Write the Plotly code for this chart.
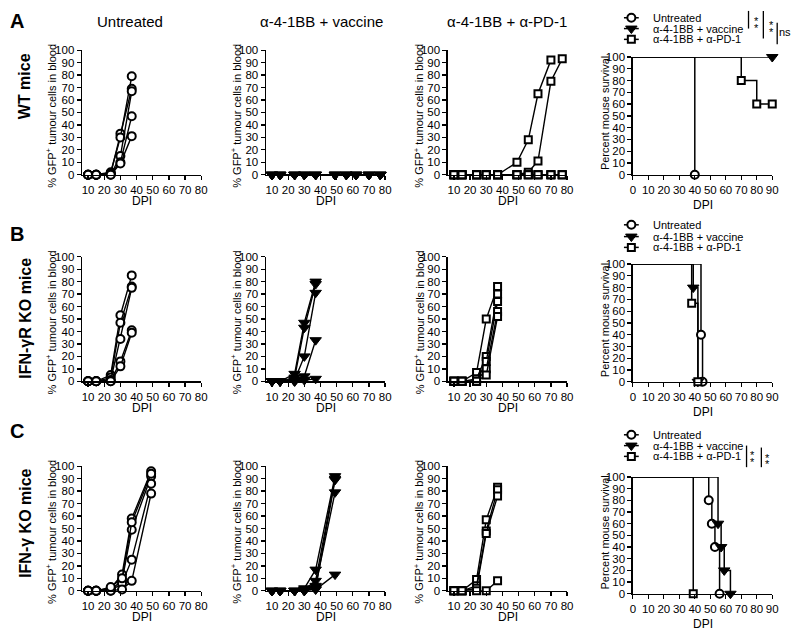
import plotly.graph_objects as go

FIG_W, FIG_H = 800, 639
FONT = "Liberation Sans, Arial, sans-serif"

# ---------------- data ----------------
COL_TITLES = ["Untreated", "α-4-1BB + vaccine", "α-4-1BB + α-PD-1"]
ROW_TITLES = ["WT mice", "IFN-γR KO mice", "IFN-γ KO mice"]
PANEL_LETTERS = ["A", "B", "C"]
GROUP_NAMES = ["Untreated", "α-4-1BB + vaccine", "α-4-1BB + α-PD-1"]

GFP_XTICKS = [10, 20, 30, 40, 50, 60, 70, 80]
PCT_TICKS = [0, 10, 20, 30, 40, 50, 60, 70, 80, 90, 100]
SURV_XTICKS = [0, 10, 20, 30, 40, 50, 60, 70, 80, 90]

# Row A (WT mice)
A_UNT_DAYS = [10, 15, 24, 30, 37]
A_UNT = [
    [0, 0, 1, 33, 69],
    [0, 0, 2, 30, 79],
    [0, 0, 0, 15, 67],
    [0, 0, 1, 10, 47],
    [0, 0, 0, 9, 31],
]
A_VAC_DAYS = [10, 15, 24, 30, 37, 49, 56, 62, 70, 77]
A_VAC = [
    [0, 0, 0, 0, 0, 0, 0, 0, 0, 0],
    [0, 0, 0, 0, 0, 0, 0, 0, 0, 0],
    [0, 0, 0, 0, 0, 0, 0, 0, 0, 0],
    [0, 0, 0, 0, 0, 0, 0, 0, 0, 0],
    [0, 0, 0, 0, 0, 0, 0, 0, 0, 0],
]
A_PD1_DAYS = [10, 15, 24, 30, 37, 49, 56, 62, 70, 77]
A_PD1 = [
    [0, 0, 0, 0, 0, 10, 28, 65, 92, None],
    [0, 0, 0, 0, 0, 0, 2, 11, 75, 93],
    [0, 0, 0, 0, 0, 0, 0, 0, 0, 0],
    [0, 0, 0, 0, 0, 0, 0, 0, 0, 0],
    [0, 0, 0, 0, 0, 0, 0, 0, 0, 0],
]

# Row B (IFN-gammaR KO mice)
B_UNT_DAYS = [10, 15, 24, 30, 37]
B_UNT = [
    [0, 0, 5, 53, 85],
    [0, 0, 3, 47, 76],
    [0, 0, 1, 34, 75],
    [0, 0, 0, 16, 41],
    [0, 0, 0, 12, 39],
]
B_VAC_DAYS = [10, 15, 24, 30, 37]
B_VAC = [
    [0, 0, 6, 47, 80],
    [0, 0, 3, 43, 78],
    [0, 0, 1, 20, 71],
    [0, 0, 0, 4, 33],
    [0, 0, 0, 1, 2],
]
B_PD1_DAYS = [10, 15, 24, 30, 37]
B_PD1 = [
    [0, 0, 7, 50, 76],
    [0, 0, 2, 20, 70],
    [0, 0, 0, 16, 64],
    [0, 0, 0, 10, 56],
    [0, 0, 0, 5, 52],
]

# Row C (IFN-gamma KO mice)
C_UNT_DAYS = [10, 15, 24, 31, 37, 49]
C_UNT = [
    [0, 0, 2, 13, 58, 96],
    [0, 0, 1, 8, 49, 92],
    [0, 0, 0, 6, 25, 86],
    [0, 0, 0, 1, 8, 78],
    [0, 0, 3, 10, 55, 94],
]
C_VAC_DAYS = [10, 15, 24, 30, 37, 49]
C_VAC = [
    [0, 0, 0, 2, 17, 92],
    [0, 0, 0, 1, 8, 90],
    [0, 0, 0, 0, 4, 79],
    [0, 0, 0, 0, 2, 89],
    [0, 0, 0, 0, 1, 13],
]
C_PD1_DAYS = [10, 15, 24, 30, 37]
C_PD1 = [
    [0, 0, 9, 57, 83],
    [0, 0, 4, 48, 81],
    [0, 0, 2, 46, 76],
    [0, 0, 0, 0, 8],
]

# Survival (time, percent survival) per group
A_SURV_T = [[0, 40], [0, 90], [0, 70, 80, 90]]
A_SURV_S = [[100, 0], [100, 100], [100, 80, 60, 60]]
B_SURV_T = [[0, 44, 45], [0, 39, 42], [0, 38, 42]]
B_SURV_S = [[100, 40, 0], [100, 80, 0], [100, 66.7, 0]]
C_SURV_T = [[0, 49, 51, 53, 56], [0, 55, 57, 59, 63], [0, 39]]
C_SURV_S = [[100, 80, 60, 40, 0], [100, 60, 40, 20, 0], [100, 0]]

GFP_DATA = [
    [(A_UNT_DAYS, A_UNT), (A_VAC_DAYS, A_VAC), (A_PD1_DAYS, A_PD1)],
    [(B_UNT_DAYS, B_UNT), (B_VAC_DAYS, B_VAC), (B_PD1_DAYS, B_PD1)],
    [(C_UNT_DAYS, C_UNT), (C_VAC_DAYS, C_VAC), (C_PD1_DAYS, C_PD1)],
]
SURV_DATA = [(A_SURV_T, A_SURV_S), (B_SURV_T, B_SURV_S), (C_SURV_T, C_SURV_S)]

# ---------------- layout geometry (pixels) ----------------
COL_X = [(80, 200.5), (266, 386.5), (450, 570.5), (637, 778)]
ROW_Y_GFP = [(45, 172), (255.5, 382.5), (469, 596)]
ROW_Y_SURV = [(52, 172), (263, 383), (480, 599)]
YTITLE_X = [49, 236, 421, 609]
COLTITLE_X = [128, 322, 510]
LEGEND_ROWS = [(12, 23, 34), (223, 235, 246), (437, 448, 459)]


def fx(p):
    return p / FIG_W


def fy(p):
    return 1 - p / FIG_H


MARKERS = [
    dict(symbol="circle", size=8, color="white", line=dict(color="black", width=2)),
    dict(symbol="triangle-down", size=10, color="black", line=dict(color="black", width=1)),
    dict(symbol="square", size=7, color="white", line=dict(color="black", width=2)),
]

fig = go.Figure()
annotations = []
shapes = []


def axis_style(**kw):
    d = dict(
        showline=True, linecolor="black", linewidth=1.5,
        ticks="outside", ticklen=4, tickwidth=1.3, tickcolor="black",
        showgrid=False, zeroline=False, fixedrange=True,
        tickfont=dict(family=FONT, size=11.5, color="black"),
    )
    d.update(kw)
    return d


axes_layout = {}
idx = 0
for r in range(3):
    for c in range(4):
        idx += 1
        sfx = "" if idx == 1 else str(idx)
        xref = "x" + sfx
        yref = "y" + sfx
        x0, x1 = COL_X[c]
        if c < 3:
            y0, y1 = ROW_Y_GFP[r]
            xr = [6.3, 80]
            xt = GFP_XTICKS
        else:
            y0, y1 = ROW_Y_SURV[r]
            xr = [0, 90]
            xt = SURV_XTICKS
        axes_layout["xaxis" + sfx] = axis_style(
            domain=[fx(x0), fx(x1)], range=xr, tickmode="array", tickvals=xt, anchor=yref)
        axes_layout["yaxis" + sfx] = axis_style(
            domain=[fy(y1), fy(y0)], range=[0, 100], tickmode="array",
            tickvals=PCT_TICKS, anchor=xref)

        if c < 3:
            days, series = GFP_DATA[r][c]
            for vals in series:
                fig.add_trace(go.Scatter(
                    x=days, y=vals, mode="lines+markers",
                    line=dict(color="black", width=1.4),
                    marker=MARKERS[c], cliponaxis=False, showlegend=False,
                    xaxis=xref, yaxis=yref, hoverinfo="skip"))
            ytitle = "% GFP<sup>+</sup> tumour cells in blood"
            ymid = (y0 + y1) / 2 + 3
            dpi_y = y1 + 27
        else:
            ts, ss = SURV_DATA[r]
            for g in range(3):
                fig.add_trace(go.Scatter(
                    x=ts[g], y=ss[g], mode="lines", line_shape="hv",
                    line=dict(color="black", width=1.5), cliponaxis=False,
                    showlegend=False, xaxis=xref, yaxis=yref, hoverinfo="skip"))
            for g in range(3):
                fig.add_trace(go.Scatter(
                    x=ts[g][1:], y=ss[g][1:], mode="markers",
                    marker=MARKERS[g], cliponaxis=False,
                    showlegend=False, xaxis=xref, yaxis=yref, hoverinfo="skip"))
            ytitle = "Percent mouse survival"
            ymid = (y0 + y1) / 2 - 3
            dpi_y = y1 + 31
        annotations.append(dict(
            x=fx(YTITLE_X[c]), y=fy(ymid), xref="paper", yref="paper",
            text=ytitle, textangle=-90, showarrow=False,
            xanchor="center", yanchor="middle",
            font=dict(family=FONT, size=11, color="black")))
        annotations.append(dict(
            x=fx((x0 + x1) / 2), y=fy(dpi_y), xref="paper", yref="paper",
            text="DPI", showarrow=False, xanchor="center", yanchor="middle",
            font=dict(family=FONT, size=12, color="black")))

# overlay axis for legend glyphs (pixel coordinates)
axes_layout["xaxis13"] = dict(domain=[0, 1], range=[0, FIG_W], visible=False,
                              fixedrange=True, anchor="y13")
axes_layout["yaxis13"] = dict(domain=[0, 1], range=[FIG_H, 0], visible=False,
                              fixedrange=True, anchor="x13")
for r in range(3):
    for g in range(3):
        ly = LEGEND_ROWS[r][g]
        fig.add_trace(go.Scatter(
            x=[628, 643], y=[ly, ly], mode="lines", line=dict(color="black", width=1.5),
            showlegend=False, xaxis="x13", yaxis="y13", hoverinfo="skip", cliponaxis=False))
        fig.add_trace(go.Scatter(
            x=[635.5], y=[ly], mode="markers", marker=MARKERS[g],
            showlegend=False, xaxis="x13", yaxis="y13", hoverinfo="skip", cliponaxis=False))
        annotations.append(dict(
            x=fx(655), y=fy(ly), xref="paper", yref="paper", text=GROUP_NAMES[g],
            showarrow=False, xanchor="left", yanchor="middle",
            font=dict(family=FONT, size=11, color="black")))

# column titles
for c in range(3):
    annotations.append(dict(
        x=fx(COLTITLE_X[c]), y=fy(16), xref="paper", yref="paper", text=COL_TITLES[c],
        showarrow=False, xanchor="center", yanchor="middle",
        font=dict(family=FONT, size=15, color="black")))

# row labels and letters
ROW_LABEL_Y = [82, 318, 527]
LETTER_Y = [15, 232, 433]
for r in range(3):
    annotations.append(dict(
        x=fx(22), y=fy(ROW_LABEL_Y[r]), xref="paper", yref="paper",
        text=f"<b>{ROW_TITLES[r]}</b>", textangle=-90, showarrow=False,
        xanchor="center", yanchor="middle",
        font=dict(family=FONT, size=16, color="black")))
    annotations.append(dict(
        x=fx(14), y=fy(LETTER_Y[r]), xref="paper", yref="paper",
        text=f"<b>{PANEL_LETTERS[r]}</b>", showarrow=False,
        xanchor="center", yanchor="middle",
        font=dict(family=FONT, size=20, color="black")))

# significance brackets
BRACKETS = [
    (754, 5, 23, ["*", "*"], 762, [12, 19]),
    (769, 5, 33, ["*", "*"], 777, [16, 24]),
    (783, 17, 39, ["ns"], 791, [27]),
    (752, 448, 470, ["*", "*"], 758.5, [455, 462]),
    (767, 450, 470, ["*", "*"], 773.5, [458, 464]),
]
for bx, by0, by1, labels, tx, tys in BRACKETS:
    shapes.append(dict(type="line", xref="paper", yref="paper",
                       x0=fx(bx), x1=fx(bx), y0=fy(by0), y1=fy(by1),
                       line=dict(color="black", width=1.3)))
    for lab, ty in zip(labels, tys):
        is_star = lab == "*"
        annotations.append(dict(
            x=fx(tx), y=fy(ty + (3 if is_star else 0)), xref="paper", yref="paper",
            text=lab, showarrow=False, xanchor="center", yanchor="middle",
            font=dict(family=FONT, size=11, color="black")))

fig.update_layout(
    width=FIG_W, height=FIG_H,
    margin=dict(l=0, r=0, t=0, b=0),
    paper_bgcolor="white", plot_bgcolor="rgba(0,0,0,0)",
    showlegend=False,
    annotations=annotations, shapes=shapes,
    font=dict(family=FONT, color="black"),
    **axes_layout,
)
fig.write_html(
    "out.html",
    config={"displayModeBar": False, "staticPlot": True},
    post_script="document.body.style.margin='0';document.body.style.overflow='hidden';",
)
